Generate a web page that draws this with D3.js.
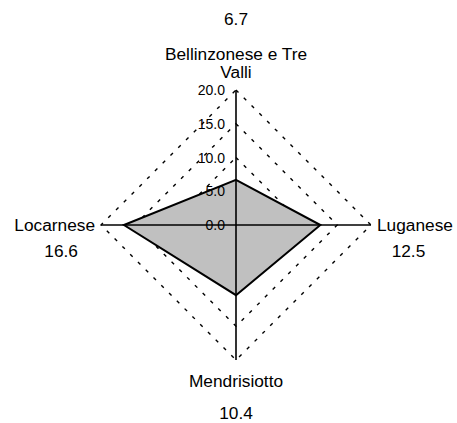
<!DOCTYPE html>
<html>
<head>
<meta charset="utf-8">
<script src="https://cdn.jsdelivr.net/npm/d3@7"></script>
<style>
  html, body { margin: 0; padding: 0; background: #ffffff; }
  svg { display: block; }
  text { font-family: "Liberation Sans", Arial, sans-serif; fill: #000; }
</style>
</head>
<body>
<svg id="chart" width="457" height="423"></svg>
<script>
// Regional values (clockwise from the top axis)
const categories = ["Bellinzonese e Tre Valli", "Luganese", "Mendrisiotto", "Locarnese"];
const values = [6.7, 12.5, 10.4, 16.6];
const tickValues = [0, 5, 10, 15, 20];
const tickLabels = ["0.0", "5.0", "10.0", "15.0", "20.0"];

const W = 457, H = 423;
const cx = 236, cy = 225;
const r = d3.scaleLinear().domain([0, 20]).range([0, 135]);

const svg = d3.select("#chart");
const n = categories.length;
const angle = i => -Math.PI / 2 + i * 2 * Math.PI / n;
const pt = (i, v) => [cx + r(v) * Math.cos(angle(i)), cy + r(v) * Math.sin(angle(i))];

const line = d3.line().curve(d3.curveLinearClosed);

// Dashed grid rings
svg.append("g").selectAll("path")
  .data(tickValues.filter(t => t > 0))
  .join("path")
  .attr("d", t => line(d3.range(n).map(i => pt(i, t))))
  .attr("fill", "none")
  .attr("stroke", "#000")
  .attr("stroke-width", 1.4)
  .attr("stroke-dasharray", "3.5,7.5");

// Data polygon
svg.append("path")
  .attr("d", line(values.map((v, i) => pt(i, v))))
  .attr("fill", "#c0c0c0")
  .attr("stroke", "#000")
  .attr("stroke-width", 2)
  .attr("stroke-linejoin", "miter");

// Category axes
svg.append("g").selectAll("line")
  .data(d3.range(n))
  .join("line")
  .attr("x1", cx).attr("y1", cy)
  .attr("x2", i => pt(i, 20)[0])
  .attr("y2", i => pt(i, 20)[1])
  .attr("stroke", "#000")
  .attr("stroke-width", 1.6);

// Value axis labels along the top axis
svg.append("g").selectAll("text")
  .data(tickValues)
  .join("text")
  .attr("x", cx - 11)
  .attr("y", t => cy - r(t) + 5)
  .attr("text-anchor", "end")
  .style("font-size", "14px")
  .text((t, i) => tickLabels[i]);

// Word wrap helper for long category names
function wrap(textSel, maxWidth) {
  const words = textSel.text().split(/\s+/);
  textSel.text(null);
  const lines = [];
  let cur = [];
  const probe = textSel.append("tspan");
  words.forEach(w => {
    const trial = cur.concat([w]).join(" ");
    probe.text(trial);
    if (probe.node().getComputedTextLength() > maxWidth && cur.length) {
      lines.push(cur.join(" "));
      cur = [w];
    } else {
      cur.push(w);
    }
  });
  lines.push(cur.join(" "));
  probe.remove();
  return lines;
}

const fs = 17.3, lh = 18.5;
const labels = svg.append("g").style("font-size", fs + "px");

categories.forEach((name, i) => {
  const a = angle(i);
  const [ex, ey] = pt(i, 20);
  const dx = Math.round(Math.cos(a)), dy = Math.round(Math.sin(a));
  const t = labels.append("text").text(name);
  const lines = wrap(t, 150);
  const v = values[i].toFixed(1);

  if (dy === -1) {
    // top: lines stacked upward from the axis end, value above them
    const lastBase = ey - 12;
    t.attr("text-anchor", "middle");
    lines.forEach((l, k) => {
      t.append("tspan").attr("x", ex).attr("y", lastBase - (lines.length - 1 - k) * lh).text(l);
    });
    labels.append("text").attr("x", ex).attr("y", lastBase - (lines.length - 1) * lh - 35)
      .attr("text-anchor", "middle").text(v);
  } else if (dy === 1) {
    // bottom
    const firstBase = ey + 26.5;
    t.attr("text-anchor", "middle");
    lines.forEach((l, k) => {
      t.append("tspan").attr("x", ex).attr("y", firstBase + k * lh).text(l);
    });
    labels.append("text").attr("x", ex).attr("y", firstBase + (lines.length - 1) * lh + 32)
      .attr("text-anchor", "middle").text(v);
  } else {
    // left / right
    const x0 = ex + dx * 6;
    t.attr("text-anchor", dx > 0 ? "start" : "end");
    lines.forEach((l, k) => {
      t.append("tspan").attr("x", x0).attr("y", cy + 6 + k * lh).text(l);
    });
    const w = t.node().getComputedTextLength();
    const mid = x0 + dx * w / 2 - dx * 6.5;
    labels.append("text").attr("x", mid).attr("y", cy + 31.5 + (lines.length - 1) * lh)
      .attr("text-anchor", "middle").text(v);
  }
});
</script>
</body>
</html>
